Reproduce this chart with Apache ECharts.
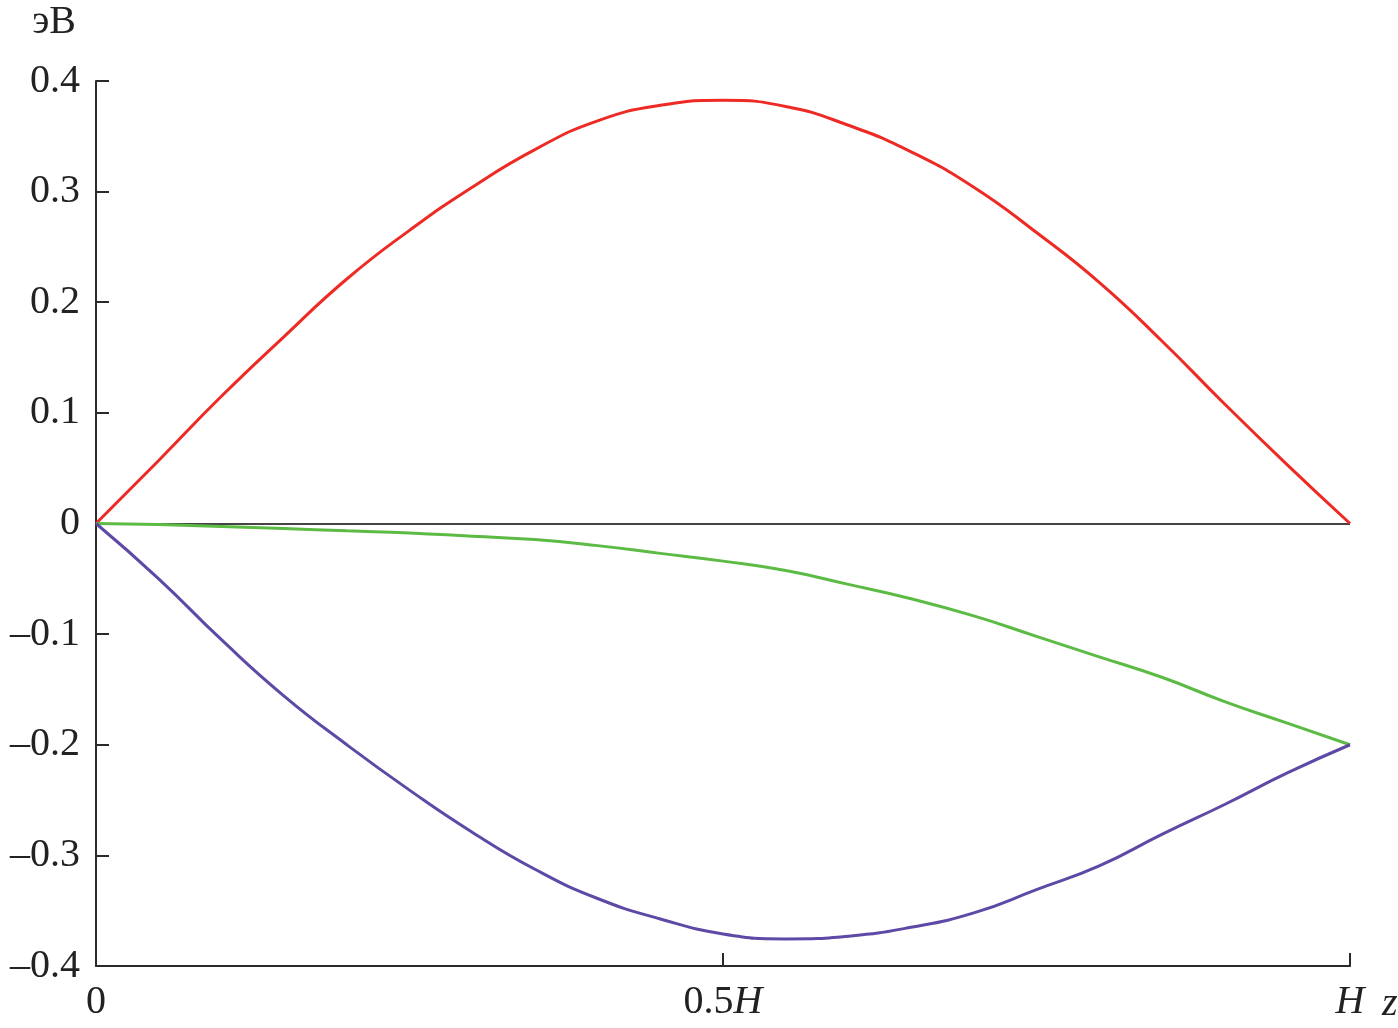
<!DOCTYPE html>
<html>
<head>
<meta charset="utf-8">
<script src="https://cdn.jsdelivr.net/npm/echarts@6/dist/echarts.min.js"></script>
<style>html,body{margin:0;padding:0;background:#fff}#c{width:1398px;height:1028px}</style>
</head>
<body>
<div id="c"></div>
<script>
const zValues     = [0, 0.05, 0.10, 0.15, 0.20, 0.25, 0.30, 0.35, 0.40, 0.45, 0.50, 0.55, 0.60, 0.65, 0.70, 0.75, 0.80, 0.85, 0.90, 0.95, 1.0];
const redValues   = [0, 0.057, 0.115, 0.169, 0.221, 0.265, 0.304, 0.338, 0.364, 0.378, 0.3825, 0.377, 0.360, 0.336, 0.304, 0.263, 0.218, 0.165, 0.108, 0.053, 0];
const greenValues = [0, -0.001, -0.0027, -0.0045, -0.0066, -0.0085, -0.0115, -0.0145, -0.020, -0.027, -0.034, -0.0425, -0.055, -0.068, -0.0835, -0.102, -0.1205, -0.139, -0.161, -0.1805, -0.2];
const purpleValues= [0, -0.050, -0.105, -0.156, -0.200, -0.241, -0.279, -0.3125, -0.339, -0.3575, -0.371, -0.3755, -0.373, -0.365, -0.352, -0.331, -0.3095, -0.281, -0.254, -0.2255, -0.2];
const xTickLabels = {'0':'0','0.5':'0.5{i|H}','1':'{i|H}'};
const yUnit = 'эВ';
const xName = 'z';

const font = '"Liberation Serif","Times New Roman",serif';
const axisColor = '#2a2a2a';
const pairs = vals => zValues.map((z, i) => [z, vals[i]]);
const chart = echarts.init(document.getElementById('c'));
const lineSeries = (vals, color) => ({
  type: 'line', data: pairs(vals), showSymbol: false, smooth: true,
  lineStyle: {color: color, width: 3}, itemStyle: {color: color}, z: 3
});
const option = {
  animation: false,
  backgroundColor: '#fff',
  grid: {left: 96, right: 48, top: 81, bottom: 62, containLabel: false, outerBoundsMode: 'none'},
  xAxis: {
    type: 'value', min: 0, max: 1, interval: 0.5,
    name: xName, nameLocation: 'end', nameGap: 32,
    nameTextStyle: {fontFamily: font, fontSize: 40, fontStyle: 'italic', color: '#222', verticalAlign: 'top', padding: [18, 0, 0, 0]},
    axisLine: {onZero: false, lineStyle: {color: axisColor, width: 2}},
    axisTick: {inside: true, length: 13, lineStyle: {color: axisColor, width: 2}},
    splitLine: {show: false},
    axisLabel: {
      margin: 16, fontFamily: font, fontSize: 40, color: '#222',
      formatter: v => xTickLabels[String(v)] || '',
      rich: {i: {fontFamily: font, fontSize: 40, fontStyle: 'italic', color: '#222'}}
    }
  },
  yAxis: {
    type: 'value', min: -0.4, max: 0.4, interval: 0.1,
    name: yUnit, nameLocation: 'end', nameGap: 39,
    nameTextStyle: {fontFamily: font, fontSize: 40, color: '#222', align: 'right', padding: [0, 20, 0, 0]},
    axisLine: {onZero: false, lineStyle: {color: axisColor, width: 2}},
    axisTick: {inside: true, length: 13, lineStyle: {color: axisColor, width: 2}},
    splitLine: {show: false},
    axisLabel: {
      margin: 16, fontFamily: font, fontSize: 40, color: '#222',
      formatter: v => Math.abs(v) < 1e-9 ? '0' : (v < 0 ? '\u2013' + Math.abs(v).toFixed(1) : v.toFixed(1))
    }
  },
  series: [
    Object.assign(lineSeries(redValues, '#ee2a24'), {
      markLine: {silent: true, symbol: 'none', label: {show: false},
        lineStyle: {color: '#444', width: 2, type: 'solid'}, data: [{yAxis: 0}], z: 2}
    }),
    lineSeries(greenValues, '#5cbb44'),
    lineSeries(purpleValues, '#5e4aa6')
  ]
};
chart.setOption(option);
</script>
</body>
</html>
